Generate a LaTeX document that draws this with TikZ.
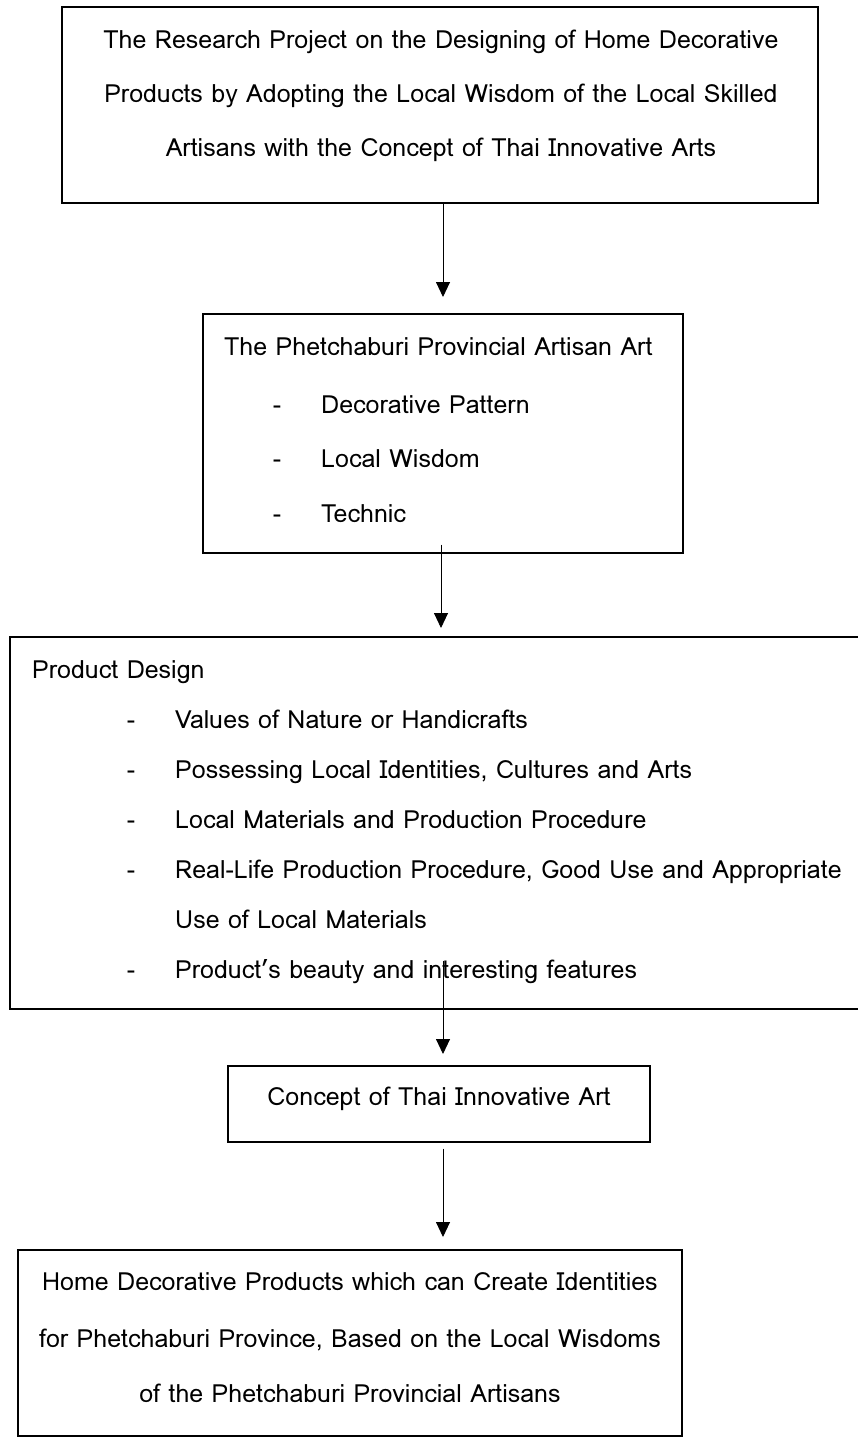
\documentclass[tikz,border=0pt]{standalone}
\usepackage{fontspec}
\setmainfont{Loma}
\usetikzlibrary{arrows.meta,calc}
\begin{document}
\begin{tikzpicture}[x=1pt,y=-1pt,
  box/.style={draw, line width=1.3pt, inner sep=0pt},
  txt/.style={font=\fontsize{25}{30}\selectfont, inner sep=0pt, yshift=-3pt},
  arr/.style={line width=0.9pt, -{Triangle[width=14pt,length=15pt]}}]
\useasboundingbox (0,0) rectangle (857,1438);
% boxes
\node[box, minimum width=756pt, minimum height=196pt] (b1) at (440,105) {};
\node[box, minimum width=480pt, minimum height=239pt] (b2) at (443,433.5) {};
\node[box, minimum width=860pt, minimum height=372pt] (b3) at (440,823) {};
\node[box, minimum width=422pt, minimum height=76pt] (b4) at (439,1104) {};
\node[box, minimum width=664pt, minimum height=186pt] (b5) at (350,1343) {};
% box 1 text
\node[txt, anchor=mid] (b1l1) at (441,43) {The Research Project on the Designing of Home Decorative};
\node[txt, anchor=mid] (b1l2) at (441,97) {Products by Adopting the Local Wisdom of the Local Skilled};
\node[txt, anchor=mid] (b1l3) at (441,151) {Artisans with the Concept of Thai Innovative Arts};
% box 2 text
\node[txt, anchor=mid west] (b2t) at (224,350) {The Phetchaburi Provincial Artisan Art};
\node[txt, anchor=mid] (b2d1) at (277,408) {-};
\node[txt, anchor=mid] (b2d2) at (277,462) {-};
\node[txt, anchor=mid] (b2d3) at (277,517) {-};
\node[txt, anchor=mid west] (b2i1) at (321,408) {Decorative Pattern};
\node[txt, anchor=mid west] (b2i2) at (321,462) {Local Wisdom};
\node[txt, anchor=mid west] (b2i3) at (321,517) {Technic};
% box 3 text
\node[txt, anchor=mid west] (b3t) at (32,673) {Product Design};
\node[txt, anchor=mid] (b3d1) at (131,723) {-};
\node[txt, anchor=mid] (b3d2) at (131,773) {-};
\node[txt, anchor=mid] (b3d3) at (131,823) {-};
\node[txt, anchor=mid] (b3d4) at (131,873) {-};
\node[txt, anchor=mid] (b3d6) at (131,973) {-};
\node[txt, anchor=mid west] (b3i1) at (175,723) {Values of Nature or Handicrafts};
\node[txt, anchor=mid west] (b3i2) at (175,773) {Possessing Local Identities, Cultures and Arts};
\node[txt, anchor=mid west] (b3i3) at (175,823) {Local Materials and Production Procedure};
\node[txt, anchor=mid west] (b3i4) at (175,873) {Real-Life Production Procedure, Good Use and Appropriate};
\node[txt, anchor=mid west] (b3i5) at (175,923) {Use of Local Materials};
\node[txt, anchor=mid west] (b3i6) at (175,973) {Product’s beauty and interesting features};
% box 4 text
\node[txt, anchor=mid] (b4t) at (439,1100) {Concept of Thai Innovative Art};
% box 5 text
\node[txt, anchor=mid] (b5l1) at (350,1285) {Home Decorative Products which can Create Identities};
\node[txt, anchor=mid] (b5l2) at (350,1342) {for Phetchaburi Province, Based on the Local Wisdoms};
\node[txt, anchor=mid] (b5l3) at (350,1397) {of the Phetchaburi Provincial Artisans};
% arrows
\coordinate (t1) at (443,297);
\coordinate (t2) at (441,628);
\coordinate (t3) at (443,1054);
\coordinate (t4) at (443,1237);
\draw[arr] (b1.south -| t1) -- (t1);
\draw[arr] ($(b2.south -| t2)+(0,-9)$) -- (t2);
\draw[arr] ($(b3.south -| t3)+(0,-49)$) -- (t3);
\draw[arr] ($(b4.south -| t4)+(0,6)$) -- (t4);
\end{tikzpicture}
\end{document}
